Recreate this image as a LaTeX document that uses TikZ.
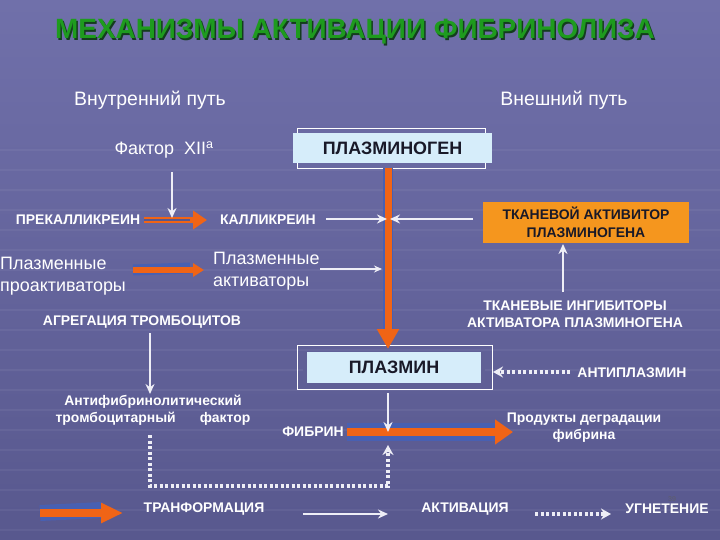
\documentclass[tikz,border=0pt]{standalone}
\usepackage{fontspec}
\setmainfont{Liberation Sans}
\usetikzlibrary{arrows.meta}
\definecolor{bgtop}{RGB}{112,112,170}
\definecolor{bgbot}{RGB}{88,88,142}
\definecolor{titlegreen}{RGB}{30,155,30}
\definecolor{titleshadow}{RGB}{20,60,30}
\definecolor{arrorange}{RGB}{240,100,22}
\definecolor{bandblue}{RGB}{72,96,178}
\definecolor{boxorange}{RGB}{245,150,30}
\definecolor{boxblue}{RGB}{214,237,250}
\definecolor{arrwhite}{RGB}{238,238,246}
\definecolor{darktext}{RGB}{25,25,40}
\definecolor{bardark}{RGB}{96,96,150}
\begin{document}
\begin{tikzpicture}[x=1bp,y=-1bp,
  wtext/.style={text=white, font=\bfseries\fontsize{14}{17}\selectfont, inner sep=0, align=center},
  rtext/.style={text=white, font=\fontsize{18}{22}\selectfont, inner sep=0},
  htext/.style={text=white, font=\fontsize{19.5}{22}\selectfont, inner sep=0},
  btext/.style={text=darktext, font=\bfseries\fontsize{18}{20}\selectfont, inner sep=0},
  warrow/.style={draw=arrwhite, line width=2.6bp, -{Stealth[length=10bp,width=9bp]}},
  dotarrow/.style={draw=arrwhite, line width=3.5bp, dash pattern=on 3bp off 2.5bp, -{Stealth[length=10bp,width=11bp]}},
  band/.style={draw=bandblue, line width=#1},
  oarrow/.style={draw=arrorange, line width=#1},
]
\useasboundingbox (0,0) rectangle (720,540);
\shade[top color=bgtop, bottom color=bgbot] (0,0) rectangle (720,540);
\foreach \yy in {150,170,...,530} {
  \draw[white, opacity=0.05, line width=1.5bp] (0,\yy) -- (720,\yy);
}

% title
\node[text=titleshadow, font=\bfseries\fontsize{28}{30}\selectfont] at (356.5,33.5) {МЕХАНИЗМЫ АКТИВАЦИИ ФИБРИНОЛИЗА};
\node[text=titlegreen, font=\bfseries\fontsize{28}{30}\selectfont] (title) at (355,32) {МЕХАНИЗМЫ АКТИВАЦИИ ФИБРИНОЛИЗА};

% headers
\node[htext] (inner) at (150,100) {Внутренний путь};
\node[htext] (outer) at (564,100) {Внешний путь};
\node[rtext] (factor) at (164,150) {Фактор\ \ XII\textsuperscript{a}};

% plasminogen
\draw[white, line width=0.8bp] (297,128) rectangle (485,168);
\node[btext, fill=boxblue, minimum width=199bp, minimum height=30bp] (plg) at (392.5,148) {ПЛАЗМИНОГЕН};

% plasmin
\draw[white, line width=0.8bp] (297,345) rectangle (492,389);
\node[btext, fill=boxblue, minimum width=182bp, minimum height=31bp] (plm) at (394,367.5) {ПЛАЗМИН};
\fill[bardark] (303,352) rectangle (307,383);
\fill[bardark] (481,352) rectangle (485,383);

% main orange vertical arrow
\coordinate (vA) at (388,168);
\coordinate (vB) at (388,349);
\draw[band=10bp] (vA) -- (388,330);
\draw[oarrow=7bp, -{Triangle[length=20bp,width=21bp]}] (vA) -- (vB);

% left chain
\node[wtext] (prek) at (78,220) {ПРЕКАЛЛИКРЕИН};
\node[wtext] (kall) at (268,220) {КАЛЛИКРЕИН};
\coordinate (pkA) at (144,220);
\coordinate (pkB) at (207,220);
\draw[oarrow=5.5bp, -{Triangle[length=14bp,width=18bp]}] (pkA) -- (pkB);
\draw[bgbot, line width=1.2bp] (pkA) -- (190,220);
\coordinate (fxA) at (172,172);
\coordinate (fxB) at (172,218);
\draw[warrow] (fxA) -- (fxB);

\coordinate (kaA) at (326,219);
\coordinate (kaB) at (387,219);
\draw[warrow] (kaA) -- (kaB);

% tissue activator
\node[fill=boxorange, minimum width=206bp, minimum height=41bp, inner sep=0] (tpa) at (586,222.5) {};
\node[text=darktext, font=\bfseries\fontsize{14}{18}\selectfont, align=center, inner sep=0] (tpatext) at (586,222.5) {ТКАНЕВОЙ АКТИВИТОР\\ПЛАЗМИНОГЕНА};
\coordinate (taA) at (473,219);
\coordinate (taB) at (390,219);
\draw[warrow] (taA) -- (taB);

\node[wtext] (inhib) at (575,314.5) {ТКАНЕВЫЕ ИНГИБИТОРЫ\\АКТИВАТОРА ПЛАЗМИНОГЕНА};
\coordinate (inA) at (563,292);
\coordinate (inB) at (563,244);
\draw[warrow] (inA) -- (inB);

% plasma activators
\node[rtext, anchor=west, align=left] (proact) at (0,276) {Плазменные\\проактиваторы};
\node[rtext, anchor=west, align=left] (act) at (213,271) {Плазменные\\активаторы};
\coordinate (paA) at (133,270);
\coordinate (paB) at (204,270);
\draw[band=11bp] (paA) -- (190,268);
\draw[oarrow=5.5bp, -{Triangle[length=11bp,width=13bp]}] (paA) -- (paB);
\coordinate (acA) at (320,269);
\coordinate (acB) at (382,269);
\draw[warrow, line width=1.8bp, -{Stealth[length=8bp,width=7bp]}] (acA) -- (acB);

% platelets
\node[wtext] (aggr) at (142,322) {АГРЕГАЦИЯ ТРОМБОЦИТОВ};
\coordinate (agA) at (150,333);
\coordinate (agB) at (150,394);
\draw[warrow] (agA) -- (agB);
\node[wtext] (antif) at (153,410.5) {Антифибринолитический\\тромбоцитарный\hspace{24bp}фактор};

% antiplasmin
\node[wtext] (antipl) at (632,373) {АНТИПЛАЗМИН};
\coordinate (apA) at (570,372);
\coordinate (apB) at (493,372);
\draw[dotarrow] (apA) -- (apB);

% fibrin
\node[wtext] (fibrin) at (313,432) {ФИБРИН};
\coordinate (fbA) at (347,432);
\coordinate (fbB) at (513,432);
\draw[band=18bp] (fbA) -- (496,432);
\draw[oarrow=8bp, -{Triangle[length=18bp,width=24bp]}] (fbA) -- (fbB);
\node[wtext] (prod) at (584,427.5) {Продукты деградации\\фибрина};
\coordinate (plA) at (388,393);
\coordinate (plB) at (388,432);
\draw[warrow] (plA) -- (plB);

% dotted inhibition from platelet factor
\coordinate (dA) at (150,435);
\coordinate (dB) at (388,445);
\draw[dotarrow] (dA) -- (150,486) -- (388,486) -- (dB);

% legend
\coordinate (lgA) at (40,513);
\coordinate (lgB) at (123,513);
\draw[band=16bp] (lgA) -- (102,510);
\draw[oarrow=8bp, -{Triangle[length=22bp,width=19bp]}] (lgA) -- (lgB);
\node[wtext] (ltrans) at (204,509) {ТРАНФОРМАЦИЯ};
\coordinate (lwA) at (303,514);
\coordinate (lwB) at (388,514);
\draw[warrow] (lwA) -- (lwB);
\node[wtext] (lact) at (465,509) {АКТИВАЦИЯ};
\coordinate (ldA) at (535,514);
\coordinate (ldB) at (611,514);
\draw[dotarrow] (ldA) -- (ldB);
\node[wtext] (linh) at (667,509) {УГНЕТЕНИЕ};
\node[text=darktext!70, font=\fontsize{7}{8}\selectfont, inner sep=0] (pgnum) at (672,499) {39};
\end{tikzpicture}
\end{document}
